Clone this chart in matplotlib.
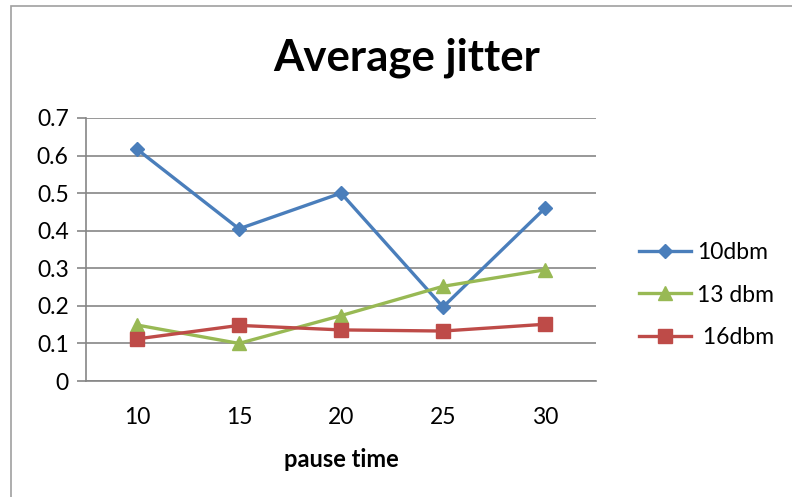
import matplotlib.pyplot as plt
from matplotlib.patches import Rectangle

# jitter measured for each transmit power over the pause times
pause_time = ['10', '15', '20', '25', '30']
jitter_10dbm = [0.617, 0.405, 0.500, 0.197, 0.460]
jitter_13dbm = [0.149, 0.100, 0.174, 0.252, 0.296]
jitter_16dbm = [0.112, 0.148, 0.136, 0.133, 0.151]

plt.rcParams['font.family'] = 'Lato'

W, H = 792, 497
fig = plt.figure(figsize=(W / 100, H / 100), dpi=100)

# thin gray frame round the chart
fig.patches.append(Rectangle((11 / W, -0.1), 1.1, 1 - 6 / H + 0.1, transform=fig.transFigure,
                             fill=False, edgecolor='#a0a0a0', linewidth=1.2))

ax = fig.add_axes([86 / W, 1 - 381 / H, 510 / W, 263 / H])
x = range(len(pause_time))

ax.plot(x, jitter_10dbm, color='#4A7EBB', lw=2.4, marker='D', ms=7.5, label='10dbm')
ax.plot(x, jitter_13dbm, color='#98B954', lw=2.4, marker='^', ms=10, label='13 dbm')
ax.plot(x, jitter_16dbm, color='#BE4B48', lw=2.4, marker='s', ms=10, label=' 16dbm')

ax.set_xlim(-0.5, len(pause_time) - 0.5)
ax.set_ylim(0, 0.7)
ax.set_xticks(list(x))
ax.set_xticklabels(pause_time)
ax.set_yticks([0, 0.1, 0.2, 0.3, 0.4, 0.5, 0.6, 0.7])
ax.set_yticklabels(['0', '0.1', '0.2', '0.3', '0.4', '0.5', '0.6', '0.7'])
ax.yaxis.grid(True, color='#868686', lw=1.2)
ax.set_axisbelow(True)

for side in ['top', 'right']:
    ax.spines[side].set_visible(False)
for side in ['left', 'bottom']:
    ax.spines[side].set_color('#868686')
    ax.spines[side].set_linewidth(1.2)

ax.tick_params(axis='y', length=6.5, width=1.2, color='#868686', labelsize=16.5, pad=6)
ax.tick_params(axis='x', length=0, labelsize=16.5, pad=19)

ax.set_xlabel('pause time', fontsize=17, fontweight='bold', labelpad=14)
fig.text(407 / W, 1 - 58 / H, 'Average jitter', ha='center', va='center',
         fontsize=31.5, fontweight='bold')

fig.legend(loc='center left', bbox_to_anchor=(618 / W, 1 - 295 / H), frameon=False,
           fontsize=16.5, handlelength=2.3, handletextpad=0.25, labelspacing=0.95)

fig.savefig('out.png', dpi=100)
